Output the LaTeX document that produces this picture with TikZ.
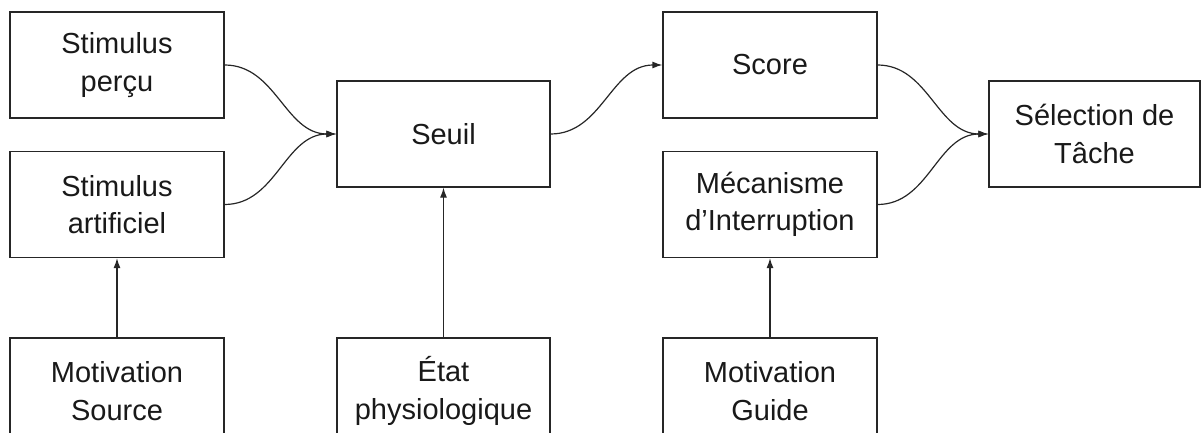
\documentclass[tikz,border=0pt]{standalone}
\usepackage{fontspec}
\setmainfont{Liberation Sans}
\usepackage{tikz}
\usetikzlibrary{arrows.meta}

\tikzset{
  boite/.style={draw=black!85,line width=1.2pt,rectangle,inner sep=0pt,
    minimum width=214pt,minimum height=106pt,align=center,
    text=black!90,font=\fontsize{29}{37.5}\selectfont},
  lien/.style={line width=1.2pt,draw=black!85,->},
}

\begin{document}
\begin{tikzpicture}[x=1pt,y=-1pt,>={Latex[length=10pt,width=7pt]}]
  \useasboundingbox
    (0,0)
    rectangle
    (1202,433);
  \node[boite] (percu) at (117,65) {Stimulus\\perçu};
  \node[boite] (artificiel) at (117,204.5) {Stimulus\\artificiel};
  \node[boite] (source) at (117,391) {Motivation\\Source};
  \node[boite,minimum width=213pt] (seuil) at (443.5,134) {Seuil};
  \node[boite,minimum width=213pt] (etat) at (443.5,391) {État\\physiologique};
  \node[boite] (score) at (770,65) {Score};
  \node[boite] (interruption) at (770,204.5) {Mécanisme\\d’Interruption};
  \node[boite] (guide) at (770,391) {Motivation\\Guide};
  \node[boite,minimum width=211pt] (selection) at (1094.5,134) {Sélection de\\Tâche};
  \draw[lien]
    (percu.east)
    to[out=0,in=180]
    (seuil.west);
  \draw[lien]
    (artificiel.east)
    to[out=0,in=180]
    (seuil.west);
  \draw[lien]
    (seuil.east)
    to[out=0,in=180]
    (score.west);
  \draw[lien]
    (score.east)
    to[out=0,in=180]
    (selection.west);
  \draw[lien]
    (interruption.east)
    to[out=0,in=180]
    (selection.west);
  \draw[lien]
    (source.north)
    --
    (artificiel.south);
  \draw[lien]
    (etat.north)
    --
    (seuil.south);
  \draw[lien]
    (guide.north)
    --
    (interruption.south);
\end{tikzpicture}
\end{document}
